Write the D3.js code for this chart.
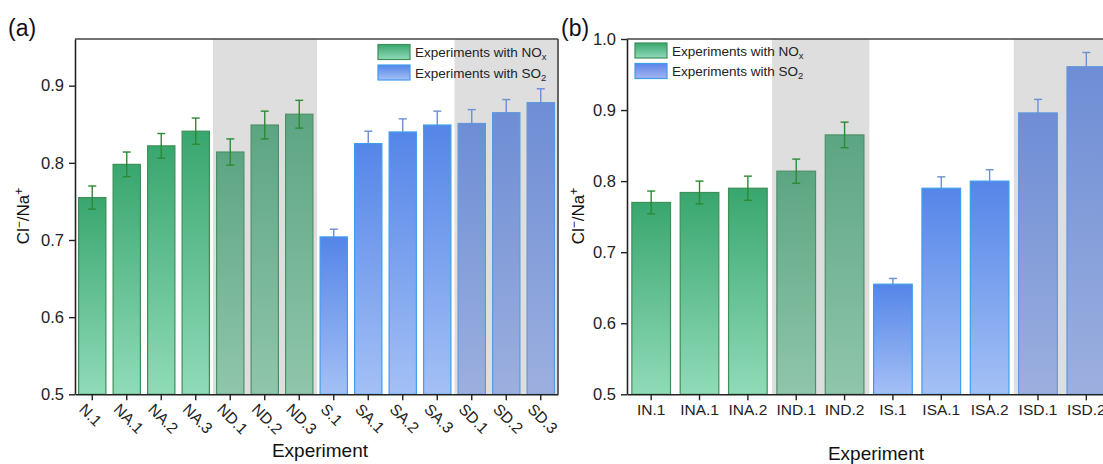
<!DOCTYPE html>
<html>
<head>
<meta charset="utf-8">
<script src="https://cdn.jsdelivr.net/npm/d3@7/dist/d3.min.js"></script>
<style>
  html, body { margin: 0; padding: 0; background: #fff; }
  svg { display: block; font-family: "Liberation Sans", Arial, sans-serif; }
</style>
</head>
<body>
<svg id="chart" width="1103" height="464"></svg>
<script>
// ---------- DATA ----------
const categoriesA = ["N.1","NA.1","NA.2","NA.3","ND.1","ND.2","ND.3","S.1","SA.1","SA.2","SA.3","SD.1","SD.2","SD.3"];
const valuesA     = [0.755,0.798,0.822,0.841,0.814,0.849,0.863,0.704,0.825,0.840,0.849,0.851,0.865,0.878];
const errorsA     = [0.015,0.016,0.016,0.017,0.017,0.018,0.018,0.010,0.016,0.017,0.018,0.018,0.017,0.018];
const shadedA     = ["ND.1","ND.2","ND.3","SD.1","SD.2","SD.3"];
const yTicksA     = [0.5,0.6,0.7,0.8,0.9];

const categoriesB = ["IN.1","INA.1","INA.2","IND.1","IND.2","IS.1","ISA.1","ISA.2","ISD.1","ISD.2"];
const valuesB     = [0.770,0.784,0.790,0.814,0.865,0.655,0.790,0.800,0.896,0.961];
const errorsB     = [0.016,0.016,0.017,0.017,0.018,0.008,0.016,0.016,0.019,0.020];
const shadedB     = ["IND.1","IND.2","ISD.1","ISD.2"];
const yTicksB     = [0.5,0.6,0.7,0.8,0.9,1.0];

const legendLabels = [["Experiments with NO","x"],["Experiments with SO","2"]];

// ---------- DRAWING ----------
const svg = d3.select("#chart");
const defs = svg.append("defs");
function grad(id, top, bottom) {
  const g = defs.append("linearGradient").attr("id", id)
    .attr("x1", 0).attr("y1", 0).attr("x2", 0).attr("y2", 1);
  g.append("stop").attr("offset", "0%").attr("stop-color", top);
  g.append("stop").attr("offset", "100%").attr("stop-color", bottom);
}
grad("gGreen", "#39a66e", "#90dbb9");
grad("gGreenS", "#5ca582", "#90c6ab");
grad("gBlue", "#5485e8", "#a4c0f5");
grad("gBlueS", "#6e8dd5", "#9cb0df");
grad("gLegBlue", "#5c86e8", "#a6b4ee");

const colors = {
  green: {fill: "url(#gGreen)", fillS: "url(#gGreenS)", stroke: "#3c9058", strokeS: "#4e8f68", err: "#2b8a35"},
  blue:  {fill: "url(#gBlue)",  fillS: "url(#gBlueS)",  stroke: "#3f9ded", strokeS: "#5f97de", err: "#6b8fd2"}
};
const FONT = "'Liberation Sans', Arial, sans-serif";

function drawPanel(opt) {
  const {cats, vals, errs, shaded, yTicks, x0, x1, yDomain, top, bottom, gasOf, rotated} = opt;
  const g = svg.append("g");
  const pad = 0.18;
  const x = d3.scaleBand().domain(cats).range([x0, x1]).paddingInner(pad).paddingOuter(pad / 2);
  const y = d3.scaleLinear().domain(yDomain).range([bottom, top]);
  const step = x.step();

  // shaded bands
  g.selectAll("rect.shade").data(cats.filter(c => shaded.includes(c))).enter()
    .append("rect").attr("class", "shade")
    .attr("x", d => x(d) - step * pad / 2)
    .attr("width", step + 0.6)
    .attr("y", top).attr("height", bottom - top)
    .attr("fill", "#dedede");

  const data = cats.map((c, i) => ({c, v: vals[i], e: errs[i], gas: gasOf(c), s: shaded.includes(c)}));

  // bars
  g.selectAll("rect.bar").data(data).enter().append("rect")
    .attr("x", d => x(d.c) + 0.5)
    .attr("width", x.bandwidth() - 1)
    .attr("y", d => y(d.v))
    .attr("height", d => y(yDomain[0]) - y(d.v))
    .attr("fill", d => d.s ? colors[d.gas].fillS : colors[d.gas].fill)
    .attr("stroke", d => d.s ? colors[d.gas].strokeS : colors[d.gas].stroke)
    .attr("stroke-width", 1.2);

  // error bars
  const eg = g.selectAll("g.err").data(data).enter().append("g")
    .attr("stroke", d => colors[d.gas].err).attr("stroke-width", 1.4).attr("fill", "none");
  const cx = d => x(d.c) + x.bandwidth() / 2;
  eg.append("line")
    .attr("x1", cx).attr("x2", cx)
    .attr("y1", d => d.gas === "green" ? y(d.v - d.e) : y(d.v))
    .attr("y2", d => y(d.v + d.e));
  eg.append("line")
    .attr("x1", d => cx(d) - 4).attr("x2", d => cx(d) + 4)
    .attr("y1", d => y(d.v + d.e)).attr("y2", d => y(d.v + d.e));
  eg.filter(d => d.gas === "green").append("line")
    .attr("x1", d => cx(d) - 4).attr("x2", d => cx(d) + 4)
    .attr("y1", d => y(d.v - d.e)).attr("y2", d => y(d.v - d.e));

  // frame
  g.append("line").attr("x1", x0).attr("x2", x1).attr("y1", top).attr("y2", top)
    .attr("stroke", "#444").attr("stroke-width", 1.6);
  g.append("line").attr("x1", x1).attr("x2", x1).attr("y1", top).attr("y2", bottom)
    .attr("stroke", "#444").attr("stroke-width", 1.6);

  // y axis
  const ya = g.append("g").attr("transform", `translate(${x0},0)`)
    .call(d3.axisLeft(y).tickValues(yTicks).tickFormat(d3.format(".1f")).tickSize(6).tickPadding(5).tickSizeOuter(0));
  ya.select(".domain").attr("stroke", "#222").attr("stroke-width", 1.6);
  ya.selectAll(".tick line").attr("stroke", "#222").attr("stroke-width", 1.4);
  ya.selectAll(".tick text").attr("font-size", 16.5).attr("fill", "#222").attr("font-family", FONT);

  // x axis
  const xa = g.append("g").attr("transform", `translate(0,${bottom})`)
    .call(d3.axisBottom(x).tickSize(6).tickSizeOuter(0));
  xa.select(".domain").attr("stroke", "#222").attr("stroke-width", 1.6);
  xa.selectAll(".tick line").attr("stroke", "#222").attr("stroke-width", 1.4);
  const xt = xa.selectAll(".tick text").attr("fill", "#222").attr("font-family", FONT);
  if (rotated) {
    xt.attr("font-size", 15.5).attr("text-anchor", "start").attr("y", 0).attr("dy", 0)
      .attr("transform", "translate(-14,16) rotate(45)");
  } else {
    xt.attr("font-size", 15.5).attr("y", 10).attr("dy", "0.71em");
  }
  return {x, y};
}

const gasOfA = c => c.startsWith("N") ? "green" : "blue";
const gasOfB = c => c.startsWith("IN") ? "green" : "blue";

drawPanel({cats: categoriesA, vals: valuesA, errs: errorsA, shaded: shadedA, yTicks: yTicksA,
  x0: 75, x1: 558, yDomain: [0.5, 0.9605], top: 39, bottom: 394.3, gasOf: gasOfA, rotated: true});
drawPanel({cats: categoriesB, vals: valuesB, errs: errorsB, shaded: shadedB, yTicks: yTicksB,
  x0: 627, x1: 1110.5, yDomain: [0.5, 1.0], top: 39, bottom: 394.3, gasOf: gasOfB, rotated: false});

// panel labels
svg.append("text").attr("x", 8).attr("y", 36).attr("font-size", 23).attr("fill", "#111").text("(a)");
svg.append("text").attr("x", 561).attr("y", 36).attr("font-size", 23).attr("fill", "#111").text("(b)");

// axis titles
function yTitle(cx, cy) {
  const t = svg.append("text").attr("transform", `translate(${cx},${cy}) rotate(-90)`)
    .attr("text-anchor", "middle").attr("font-size", 17).attr("fill", "#111");
  t.append("tspan").text("Cl");
  t.append("tspan").attr("dy", -6).attr("font-size", 12).text("−");
  t.append("tspan").attr("dy", 6).text("/Na");
  t.append("tspan").attr("dy", -6).attr("font-size", 12).text("+");
}
yTitle(29, 216);
yTitle(584, 216);
svg.append("text").attr("x", 320).attr("y", 456.5).attr("text-anchor", "middle")
  .attr("font-size", 19).attr("fill", "#111").text("Experiment");
svg.append("text").attr("x", 876).attr("y", 460).attr("text-anchor", "middle")
  .attr("font-size", 19).attr("fill", "#111").text("Experiment");

// legends
function legend(x, y, fills) {
  const lg = svg.append("g").attr("transform", `translate(${x},${y})`);
  legendLabels.forEach((lab, i) => {
    const row = lg.append("g").attr("transform", `translate(0,${i * 20.5})`);
    row.append("rect").attr("x", 0).attr("y", 0).attr("width", 32).attr("height", 15)
      .attr("fill", fills[i].fill).attr("stroke", fills[i].stroke).attr("stroke-width", 1.2);
    const t = row.append("text").attr("x", 37).attr("y", 12.5).attr("font-size", 13.5).attr("fill", "#222");
    t.append("tspan").text(lab[0]);
    t.append("tspan").attr("dy", 3).attr("font-size", 9.5).text(lab[1]);
  });
}
legend(378, 44.5, [{fill: "url(#gGreen)", stroke: "#3c9058"}, {fill: "url(#gBlue)", stroke: "#3f9ded"}]);
legend(635, 43, [{fill: "url(#gGreen)", stroke: "#3c9058"}, {fill: "url(#gLegBlue)", stroke: "#3f9ded"}]);
</script>
</body>
</html>
